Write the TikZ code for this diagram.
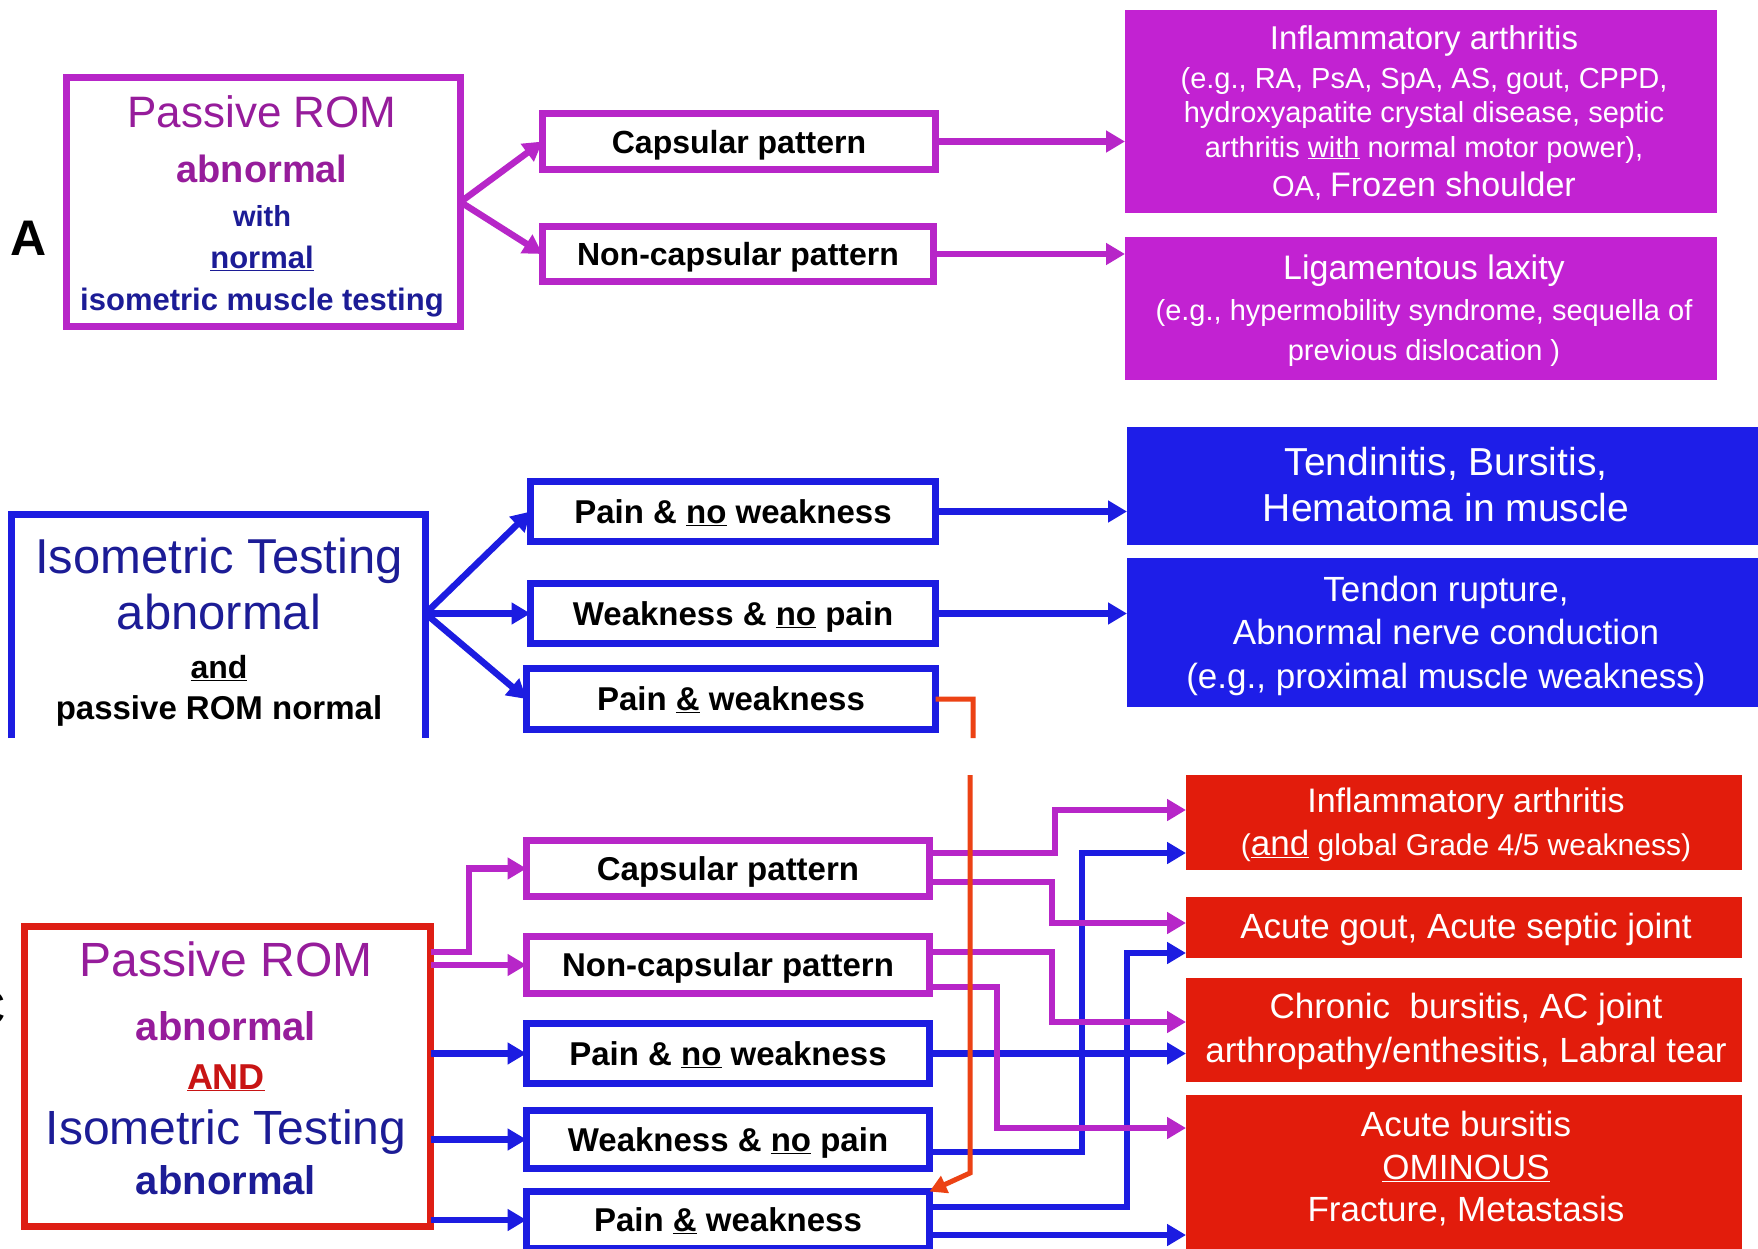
\documentclass[tikz,border=0pt]{standalone}
\usepackage{fontspec}
\setmainfont{Liberation Sans}
\usetikzlibrary{arrows.meta}
\definecolor{pstroke}{RGB}{183,38,200}
\definecolor{pfill}{RGB}{194,34,210}
\definecolor{ptext}{RGB}{150,28,155}
\definecolor{bstroke}{RGB}{28,28,225}
\definecolor{bfill}{RGB}{30,30,232}
\definecolor{btext}{RGB}{28,28,150}
\definecolor{rstroke}{RGB}{222,30,20}
\definecolor{rfill}{RGB}{226,28,12}
\definecolor{rline}{RGB}{236,66,20}
\definecolor{andred}{RGB}{200,20,20}
\newcommand{\fsz}[1]{\fontsize{#1}{#1}\selectfont}
\begin{document}
\begin{tikzpicture}[x=1pt,y=-1pt,
  frame/.style={line width=7pt, fill=white, inner sep=0pt, outer sep=0pt, text=black,
    text height=23pt, text depth=0pt},
  pbox/.style={frame, draw=pstroke},
  bbox/.style={frame, draw=bstroke},
  rbox/.style={frame, draw=rstroke},
  pfbox/.style={fill=pfill, inner sep=0pt, outer sep=0pt},
  bfbox/.style={fill=bfill, inner sep=0pt, outer sep=0pt},
  rfbox/.style={fill=rfill, inner sep=0pt, outer sep=0pt},
  lab/.style={anchor=base, inner sep=0pt, outer sep=0pt},
  wt/.style={lab, text=white},
  lbl/.style={font=\bfseries\fsz{33}},
  parr/.style={draw=pstroke, line width=6.5pt, -{Triangle[length=19pt,width=21pt]}},
  barr/.style={draw=bstroke, line width=6.5pt, -{Triangle[length=19pt,width=21pt]}},
  rarr/.style={draw=rline, line width=5pt, -{Triangle[length=17pt,width=18pt]}}
]
\fill[white] (0,0) rectangle (1758,1248);
\useasboundingbox (0,0) rectangle (1758,1248);

% ================= Panel A =================
\node[lab, font=\bfseries\fsz{50}] (lblA) at (29,255) {A};
\node[pbox, minimum width=394pt, minimum height=249pt] (promA) at (263.5,202) {};
\node[lab, text=ptext, font=\fsz{44}] (tA1) at (262,127.5) {Passive ROM};
\node[lab, text=ptext, font=\bfseries\fsz{38}] (tA2) at (262,182.5) {abnormal};
\node[lab, text=btext, font=\bfseries\fsz{29}] (tA3) at (262,226.6) {with};
\node[lab, text=btext, font=\bfseries\fsz{31}] (tA4) at (262,268) {\underline{normal}};
\node[lab, text=btext, font=\bfseries\fsz{31}] (tA5) at (262,310) {isometric muscle testing};

\node[pbox, font=\bfseries\fsz{32}, minimum width=393pt, minimum height=56pt] (capA) at (739,141.5) {Capsular pattern};
\node[pbox, font=\bfseries\fsz{32}, minimum width=391pt, minimum height=55pt] (ncapA) at (738,254) {Non-capsular pattern};

\node[pfbox, minimum width=592pt, minimum height=203pt] (resA1) at (1421,111.5) {};
\node[wt, font=\fsz{33}] (tR1) at (1424,49) {Inflammatory arthritis};
\node[wt, font=\fsz{29}] (tR2) at (1424,88) {(e.g., RA, PsA, SpA, AS, gout, CPPD,};
\node[wt, font=\fsz{29}] (tR3) at (1424,122) {hydroxyapatite crystal disease, septic};
\node[wt, font=\fsz{29}] (tR4) at (1424,157) {arthritis \underline{with} normal motor power),};
\node[wt, font=\fsz{29}] (tR5) at (1424,196) {OA, {\fsz{34}Frozen shoulder}};

\node[pfbox, minimum width=592pt, minimum height=143pt] (resA2) at (1421,308.5) {};
\node[wt, font=\fsz{34}] (tL1) at (1424,279) {Ligamentous laxity};
\node[wt, font=\fsz{29}] (tL2) at (1424,320) {(e.g., hypermobility syndrome, sequella of};
\node[wt, font=\fsz{29}] (tL3) at (1424,360) {previous dislocation )};

\draw[parr] (promA.east) -- (capA.west);
\draw[parr] (promA.east) -- (ncapA.west);
\draw[parr] (capA.east) -- (capA.east -| resA1.west);
\draw[parr] (ncapA.east) -- (ncapA.east -| resA2.west);

% ================= Panel B =================
\node[inner sep=0pt, outer sep=0pt, minimum width=414pt, minimum height=224pt] (ita) at (218.5,626) {};
\draw[bstroke, line width=7pt] (ita.south west) -- (ita.north west) -- (ita.north east) -- (ita.south east);
\node[lab, text=btext, font=\fsz{49}] (tI1) at (219,573) {Isometric Testing};
\node[lab, text=btext, font=\fsz{49}] (tI2) at (219,629) {abnormal};
\node[lab, font=\bfseries\fsz{32}] (tI3) at (219,678.5) {\underline{and}};
\node[lab, font=\bfseries\fsz{33}] (tI4) at (219,719) {passive ROM normal};

\node[bbox, lbl, minimum width=405pt, minimum height=60pt] (pnwB) at (733,511.5) {Pain \& \underline{no} weakness};
\node[bbox, lbl, minimum width=405pt, minimum height=60pt] (wnpB) at (733,613.5) {Weakness \& \underline{no} pain};
\node[bbox, lbl, minimum width=409pt, minimum height=61pt] (pwB) at (731,699) {Pain \underline{\&} weakness};

\node[bfbox, minimum width=643pt, minimum height=118pt] (resB1) at (1448.5,486) {};
\node[wt, font=\fsz{39}] (tT1) at (1446,475) {Tendinitis, Bursitis,};
\node[wt, font=\fsz{39}] (tT2) at (1446,521) {Hematoma in muscle};
\node[bfbox, minimum width=643pt, minimum height=149pt] (resB2) at (1448.5,632.5) {};
\node[wt, font=\fsz{35}] (tU1) at (1446,601.5) {Tendon rupture,};
\node[wt, font=\fsz{35}] (tU2) at (1446,644.5) {Abnormal nerve conduction};
\node[wt, font=\fsz{35}] (tU3) at (1446,688.5) {(e.g., proximal muscle weakness)};

\draw[barr] (ita.east |- wnpB.west) -- (pnwB.west);
\draw[barr] (ita.east |- wnpB.west) -- (wnpB.west);
\draw[barr] (ita.east |- wnpB.west) -- (pwB.west);
\draw[barr] (pnwB.east) -- (pnwB.east -| resB1.west);
\draw[barr] (wnpB.east) -- (wnpB.east -| resB2.west);

% ================= Panel C =================
\node[lab, anchor=base east, font=\bfseries\fsz{50}] (lblC) at (6,1025) {C};
\node[rbox, minimum width=406pt, minimum height=300pt] (prC) at (227.5,1076.5) {};
\node[lab, text=ptext, font=\fsz{48}] (tC1) at (226,976) {Passive ROM};
\node[lab, text=ptext, font=\bfseries\fsz{40}] (tC2) at (226,1040) {abnormal};
\node[lab, text=andred, font=\bfseries\fsz{36}] (tC3) at (226,1089) {\underline{AND}};
\node[lab, text=btext, font=\fsz{48}] (tC4) at (226,1144) {Isometric Testing};
\node[lab, text=btext, font=\bfseries\fsz{40}] (tC5) at (226,1194) {abnormal};

\node[pbox, lbl, minimum width=403pt, minimum height=56pt] (capC) at (728,868.5) {Capsular pattern};
\node[pbox, lbl, minimum width=403pt, minimum height=57pt] (ncapC) at (728,965) {Non-capsular pattern};
\node[bbox, lbl, minimum width=403pt, minimum height=60pt] (pnwC) at (728,1053.5) {Pain \& \underline{no} weakness};
\node[bbox, lbl, minimum width=403pt, minimum height=58pt] (wnpC) at (728,1139.5) {Weakness \& \underline{no} pain};
\node[bbox, lbl, minimum width=403pt, minimum height=57pt] (pwC) at (728,1220) {Pain \underline{\&} weakness};

\node[rfbox, minimum width=556pt, minimum height=95pt] (res1) at (1464,822.5) {};
\node[wt, font=\fsz{34}] (tV1) at (1466,812) {Inflammatory arthritis};
\node[wt, font=\fsz{30}] (tV2) at (1466,855) {({\fsz{35}\underline{and}} global Grade 4/5 weakness)};
\node[rfbox, minimum width=556pt, minimum height=61pt] (res2) at (1464,927.5) {};
\node[wt, font=\fsz{35}] (tW1) at (1466,938.5) {Acute gout, Acute septic joint};
\node[rfbox, minimum width=556pt, minimum height=104pt] (res3) at (1464,1030) {};
\node[wt, font=\fsz{35}] (tX1) at (1466,1018.5) {Chronic\ \ bursitis, AC joint};
\node[wt, font=\fsz{35}] (tX2) at (1466,1062.5) {arthropathy/enthesitis, Labral tear};
\node[rfbox, minimum width=556pt, minimum height=165pt] (res4) at (1464,1177.5) {};
\node[wt, font=\fsz{35}] (tY1) at (1466,1136.5) {Acute bursitis};
\node[wt, font=\fsz{35}] (tY2) at (1466,1179.5) {\underline{OMINOUS}};
\node[wt, font=\fsz{35}] (tY3) at (1466,1221.5) {Fracture, Metastasis};

% left connectors
\coordinate (k1) at (469,952);
\draw[barr] (prC.east |- pnwC.west) -- (pnwC.west);
\draw[barr] (prC.east |- wnpC.west) -- (wnpC.west);
\draw[barr] (prC.east |- pwC.west) -- (pwC.west);
\draw[parr] (prC.east |- k1) -- (k1) |- (capC.west);
\draw[parr] (prC.east |- ncapC.west) -- (ncapC.west);

% right connectors (blue first, purple over)
\draw[barr] (pnwC.east) -- (pnwC.east -| res3.west);
\draw[barr] (wnpC.east |- 0,1152) -| (1082,853) -- (res1.west |- 0,853);
\draw[barr] (pwC.east |- 0,1207) -| (1127,953) -- (res2.west |- 0,953);
\draw[barr] (pwC.east |- 0,1235) -- (res4.west |- 0,1235);
\draw[parr] (capC.east |- 0,853) -| (1055,810) -- (res1.west |- 0,810);
\draw[parr] (capC.east |- 0,882) -| (1052,923) -- (res2.west |- 0,923);
\draw[parr] (ncapC.east |- 0,952) -| (1052,1022) -- (res3.west |- 0,1022);
\draw[parr] (ncapC.east |- 0,987) -| (997,1128) -- (res4.west |- 0,1128);

% red link from panel B to panel C
\coordinate (rb1) at (973,738);
\coordinate (rc1) at (970,775);
\coordinate (rc2) at (970,1173);
\draw[rarr] (pwB.east) -| (rb1) (rc1) -- (rc2) -- (pwC.north east);
\end{tikzpicture}
\end{document}
